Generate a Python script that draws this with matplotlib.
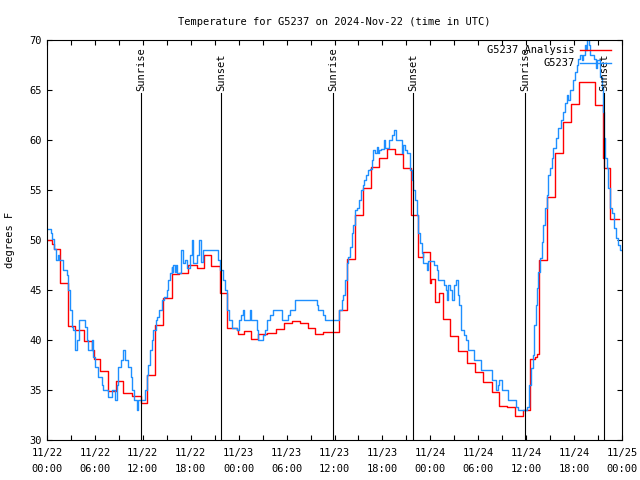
import numpy as np
import matplotlib
matplotlib.use('Agg')
import matplotlib.pyplot as plt
from matplotlib.ticker import MultipleLocator

# hours since 2024-11-22 00:00 UTC
red_t = [0.0, 0.58, 0.9, 1.63, 2.58, 3.51, 4.68, 5.59, 5.83, 6.64, 7.59, 8.6,
         9.55, 10.66, 11.76, 12.57, 13.52, 14.58, 15.59, 16.59, 17.6, 18.8,
         19.71, 20.51, 21.62, 22.57, 23.73, 23.96, 24.71, 25.54, 26.46, 27.51,
         28.64, 29.67, 30.64, 31.68, 32.64, 33.56, 34.61, 36.61, 37.53, 38.57,
         39.53, 40.53, 41.58, 42.61, 43.58, 44.53, 45.54, 46.49, 47.13, 47.95,
         48.04, 48.59, 49.13, 49.63, 50.47, 51.51, 52.56, 53.59, 54.64, 55.68,
         56.64, 57.65, 58.61, 59.65, 60.5, 61.1, 61.4, 61.57, 62.57, 63.61,
         64.57, 65.62, 66.66, 67.58, 68.63, 69.58, 69.75, 70.51, 71.6]
red_v = [50.0, 49.6, 49.1, 45.7, 41.4, 41.0, 39.9, 39.0, 38.1, 36.9, 34.9, 35.9,
         34.7, 34.4, 33.7, 36.5, 41.5, 44.2, 46.6, 46.7, 47.5, 47.2,
         48.5, 47.4, 44.7, 41.2, 41.0, 40.6, 40.9, 40.1, 40.6, 40.7,
         41.1, 41.7, 41.9, 41.7, 41.2, 40.6, 40.8, 43.0, 48.1, 52.5,
         55.2, 57.3, 58.2, 59.1, 58.6, 57.2, 52.5, 48.3, 48.8, 45.7,
         46.1, 43.8, 44.7, 42.1, 40.4, 38.9, 37.7, 36.8, 35.8, 34.8,
         33.4, 33.3, 32.4, 33.0, 38.1, 38.3, 38.6, 48.0, 54.3, 58.7,
         61.8, 63.6, 65.8, 65.8, 63.5, 58.2, 57.2, 52.1, 52.1]

blue_t = [0.0, 0.5, 0.66, 0.92, 1.13, 1.34, 1.5, 2.04, 2.46, 2.67, 2.88, 3.09,
          3.3, 3.51, 3.8, 4.0, 4.76, 4.97, 5.18, 5.59, 5.8, 6.01, 6.43, 6.85,
          7.06, 7.68, 8.09, 8.52, 8.73, 8.93, 9.27, 9.56, 9.77, 10.19, 10.52,
          10.69, 10.94, 11.23, 11.43, 12.27, 12.48, 12.69, 12.9, 13.1, 13.31,
          13.65, 13.82, 14.07, 14.36, 14.65, 14.98, 15.19, 15.4, 15.6, 15.7,
          15.82, 16.0, 16.1, 16.24, 16.74, 16.99, 17.29, 17.49, 17.91, 18.11,
          18.32, 18.74, 19.07, 19.28, 19.58, 21.45, 21.66, 21.99, 22.28, 22.57,
          22.82, 23.12, 23.73, 24.04, 24.29, 24.58, 24.7, 25.42, 25.54, 26.25,
          26.47, 27.1, 27.3, 27.59, 27.92, 28.25, 29.39, 30.23, 30.43, 31.06,
          33.77, 33.98, 34.61, 34.81, 36.61, 36.9, 37.1, 37.31, 37.53, 37.74,
          37.94, 38.15, 38.36, 38.57, 38.77, 39.11, 39.32, 39.53, 39.74, 39.95,
          40.15, 40.44, 40.65, 40.86, 41.07, 41.3, 41.4, 41.62, 41.78, 42.2,
          42.32, 42.86, 43.16, 43.45, 43.7, 44.41, 44.61, 44.83, 45.12, 45.45,
          45.66, 45.87, 46.08, 46.29, 46.5, 46.71, 46.92, 47.13, 47.54, 47.75,
          48.5, 48.8, 48.92, 49.75, 49.92, 50.05, 50.17, 50.47, 50.76, 51.01,
          51.17, 51.42, 51.59, 51.84, 52.26, 52.51, 52.76, 53.51, 54.35, 55.68,
          56.18, 56.43, 56.6, 56.93, 57.77, 58.68, 59.01, 60.06, 60.39, 60.6,
          60.81, 60.98, 61.18, 61.32, 61.53, 61.73, 61.94, 62.15, 62.36, 62.57,
          62.77, 62.98, 63.2, 63.41, 63.74, 64.03, 64.32, 64.65, 64.86, 65.08,
          65.28, 65.49, 65.83, 66.12, 66.32, 66.53, 66.75, 66.96, 67.17, 67.37,
          67.5, 67.66, 67.83, 68.0, 68.5, 68.76, 68.92, 69.25, 69.46, 69.58,
          69.75, 69.92, 70.17, 70.29, 70.51, 70.71, 71.0, 71.25, 71.54, 71.75,
          71.96]
blue_v = [51.1, 50.7, 50.1, 49.1, 48.0, 48.5, 48.0, 47.0, 46.5, 45.0, 43.0, 41.3,
          41.0, 39.0, 40.0, 42.0, 41.3, 40.0, 39.0, 40.0, 38.3, 37.3, 36.3, 35.5,
          35.0, 34.3, 35.0, 34.0, 35.5, 37.3, 38.0, 39.0, 38.0, 37.3, 36.3,
          35.0, 34.0, 33.0, 34.0, 35.0, 36.5, 37.5, 39.0, 40.0, 41.0,
          42.0, 42.3, 43.0, 44.0, 44.3, 45.0, 46.0, 46.7, 47.3, 46.8,
          47.5, 46.8, 47.5, 46.7, 49.0, 47.7, 48.0, 47.2, 48.5, 50.0,
          47.7, 48.5, 50.0, 47.8, 49.0, 48.0, 47.0, 46.0, 45.0, 43.0,
          42.0, 41.2, 41.0, 42.0, 42.5, 43.0, 42.0, 43.0, 42.0, 41.0,
          40.0, 40.5, 41.0, 42.0, 42.5, 43.0, 42.0, 42.5, 43.0, 44.0,
          43.5, 43.0, 42.5, 42.0, 43.0, 44.0, 44.5, 46.0, 47.7, 48.3,
          49.3, 50.7, 51.5, 53.0, 53.2, 54.0, 55.0, 55.5, 56.0, 56.5,
          57.0, 57.1, 58.0, 59.0, 58.7, 59.3, 58.7, 59.0, 59.1, 60.0,
          59.2, 60.0, 60.5, 61.0, 60.0, 58.7, 59.5, 59.0, 58.7, 57.0,
          56.0, 55.0, 54.0, 52.5, 50.7, 49.7, 48.7, 47.7, 47.0, 47.9,
          47.5, 47.0, 46.0, 45.5, 45.0, 44.0, 45.5, 45.0, 44.0, 45.5,
          46.0, 44.5, 43.5, 41.0, 40.5, 40.0, 39.0, 38.0, 37.0, 36.0,
          35.0, 35.5, 36.0, 35.0, 34.0, 33.3, 33.0, 33.3, 35.5, 37.2,
          38.5, 41.5, 43.5, 45.2, 46.8, 48.2, 49.8, 51.5, 53.2, 54.5,
          56.5, 57.2, 58.2, 59.2, 60.2, 61.2, 62.0, 62.8, 63.7, 64.5,
          64.0, 65.0, 66.0, 66.8, 67.5, 68.1, 68.5, 68.0, 68.5, 69.5,
          69.0, 70.5, 69.5, 68.5, 68.1, 67.2, 68.0, 66.3, 65.2, 62.8,
          60.2, 58.2, 57.2, 55.2, 53.2, 52.7, 51.2, 50.2, 49.5, 49.0,
          49.0]

sun_t = [11.8, 21.8, 35.8, 45.85, 59.85, 69.75]
sun_lab = ['Sunrise', 'Sunset', 'Sunrise', 'Sunset', 'Sunrise', 'Sunset']

xtick_hours = [0, 6, 12, 18, 24, 30, 36, 42, 48, 54, 60, 66, 72]
xtick_labels = ['11/22\n00:00', '11/22\n06:00', '11/22\n12:00', '11/22\n18:00',
                '11/23\n00:00', '11/23\n06:00', '11/23\n12:00', '11/23\n18:00',
                '11/24\n00:00', '11/24\n06:00', '11/24\n12:00', '11/24\n18:00',
                '11/25\n00:00']

plt.rcParams['font.family'] = 'DejaVu Sans Mono'
fs = 7.5

fig = plt.figure(figsize=(6.4, 4.8), dpi=100)
ax = fig.add_axes([47 / 640, 40 / 480, 575 / 640, 400 / 480])

ax.plot(red_t, red_v, drawstyle='steps-post', color='#ff0000', lw=1.0,
        label='G5237 Analysis', zorder=2)
ax.plot(blue_t, blue_v, drawstyle='steps-post', color='#1e8fff', lw=1.0,
        label='G5237', zorder=2.5)

for t, lab in zip(sun_t, sun_lab):
    ax.plot([t, t], [30, 64.7], color='black', lw=0.8, zorder=3)
    ax.text(t, 64.85, lab, rotation=90, ha='center', va='bottom', fontsize=fs)

ax.set_xlim(0, 72)
ax.set_ylim(30, 70)
ax.set_xticks(xtick_hours)
ax.set_xticklabels(xtick_labels, linespacing=1.7)
ax.xaxis.set_minor_locator(MultipleLocator(3))
ax.set_yticks(np.arange(30, 71, 5))
ax.tick_params(which='both', direction='in', top=True, right=True,
               length=3.5, width=0.8, labelsize=fs)
ax.tick_params(axis='x', pad=6)
ax.tick_params(axis='y', pad=4)
for s in ax.spines.values():
    s.set_linewidth(0.8)

ax.set_ylabel('degrees F', fontsize=fs, labelpad=10)
ax.set_title('Temperature for G5237 on 2024-Nov-22 (time in UTC)', fontsize=fs, pad=11)

ax.legend(loc='upper right', frameon=False, markerfirst=False, fontsize=fs,
          handlelength=3.0, handletextpad=0.5, labelspacing=0.3,
          borderaxespad=0.2, borderpad=0.3, bbox_to_anchor=(0.99, 1.0))

fig.savefig('out.png', dpi=100)
